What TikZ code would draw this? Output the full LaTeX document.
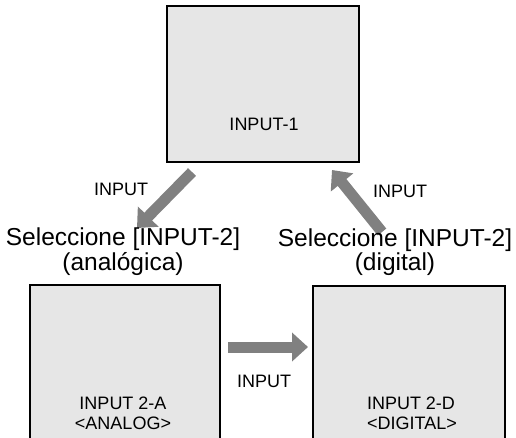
\documentclass[tikz,border=0pt]{standalone}
\usepackage{fontspec}
\setmainfont{Liberation Sans}
\usetikzlibrary{arrows.meta}
\definecolor{boxfill}{HTML}{E6E6E6}
\definecolor{arrowgray}{HTML}{808080}
\tikzset{
  panel/.style={draw=black, line width=1.3pt, fill=boxfill, inner sep=0pt},
  bigarrow/.style={draw=arrowgray, line width=11pt, -{Triangle[length=16pt,width=28pt]}},
  smalltxt/.style={font=\fontsize{18}{20}\selectfont, anchor=base, inner sep=0pt, align=center},
  bigtxt/.style={font=\fontsize{24.5}{22.5}\selectfont, anchor=base, inner sep=0pt, align=center}
}
\begin{document}
\begin{tikzpicture}[x=1pt,y=-1pt]
\useasboundingbox (0,0) rectangle (516,437);
\clip (0,0) rectangle (516,437);
% boxes
\node[panel, minimum width=192pt, minimum height=156pt] (top) at (263,84) {};
\node[panel, minimum width=190pt, minimum height=170pt] (left) at (125,370) {};
\node[panel, minimum width=192pt, minimum height=170pt] (right) at (409,371) {};
% arrow end points
\coordinate (a1s) at (192,172);
\coordinate (a1e) at (137,228);
\coordinate (a2s) at (382,232);
\coordinate (a2e) at (332,170);
\coordinate (a3s) at (228,347);
\coordinate (a3e) at (308,347);
\draw[bigarrow] (a1s) -- (a1e);
\draw[bigarrow] (a2s) -- (a2e);
\draw[bigarrow] (a3s) -- (a3e);
% box texts
\node[smalltxt] (t1) at (264,130) {INPUT-1};
\node[smalltxt] (l1) at (123,409) {INPUT 2-A};
\node[smalltxt] (l2) at (123,429) {<ANALOG>};
\node[smalltxt] (r1) at (411,409) {INPUT 2-D};
\node[smalltxt] (r2) at (412,429) {<DIGITAL>};
% selection captions (anchor base = baseline of last line)
\node[bigtxt] (sl) at (123,270) {Seleccione [INPUT-2]\\(analógica)};
\node[bigtxt] (sr) at (395,270) {Seleccione [INPUT-2]\\(digital)};
% arrow labels
\node[smalltxt] (al) at (121,195) {INPUT};
\node[smalltxt] (ar) at (400,197) {INPUT};
\node[smalltxt] (am) at (264,387) {INPUT};
\end{tikzpicture}
\end{document}
